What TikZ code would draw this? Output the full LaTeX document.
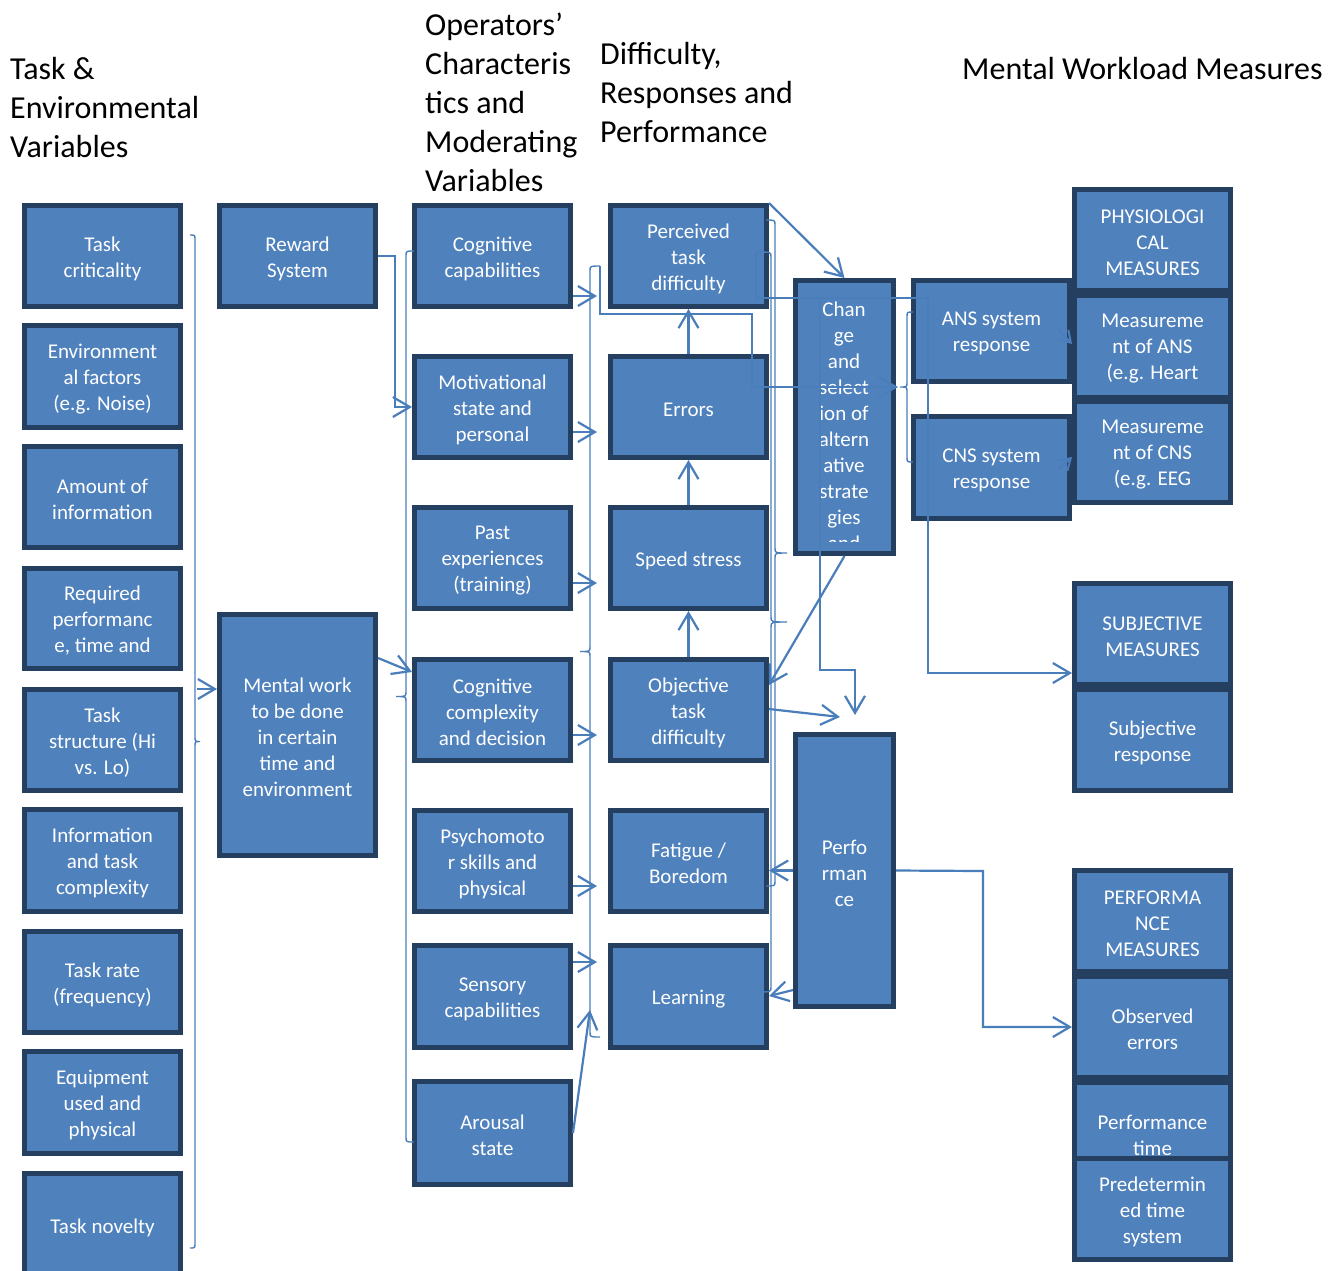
\documentclass[tikz,border=0pt]{standalone}
\usepackage{fontspec}
\setmainfont{Carlito}
\usetikzlibrary{arrows.meta}
\definecolor{boxfill}{HTML}{4F81BD}
\definecolor{boxline}{HTML}{243F60}
\definecolor{wire}{HTML}{4A7EBB}
\tikzset{
  bx/.style={draw=boxline, line width=5pt, fill=boxfill, inner sep=0pt},
  bxtext/.style={text=white, align=center, font=\fontsize{21}{26}\selectfont, inner sep=0pt},
  wire/.style={draw=wire, line width=2.2pt},
  arr/.style={wire, -{Straight Barb[length=17pt,width=20pt]}},
  sarr/.style={wire, line width=2pt, -{Straight Barb[length=11pt,width=14pt]}},
  brace/.style={draw=wire, line width=1.4pt},
  head/.style={font=\fontsize{32}{39}\selectfont, align=left, anchor=west, inner sep=0pt}
}
% box from outer corners (x1,y1)-(x2,y2), with its centred caption
\newcommand\bx[6]{\node[bx, minimum width={(#4-#2-5)*1pt}, minimum height={(#5-#3-5)*1pt}]
  (#1) at ({(#2+#4)/2},{(#3+#5)/2}) {};
  \node[bxtext] (#1-txt) at ({(#2+#4)/2},{(#3+#5)/2+2.5}) {#6};}
% vertical curly brace: name, spine x, top y, bottom y, tip x, point x
\newcommand\vbr[6]{%
  \coordinate (#1-t) at (#5,#3);
  \coordinate (#1-b) at (#5,#4);
  \coordinate (#1) at (#6,{(#3+#4)/2});
  \draw[brace] (#1-t) .. controls (#2,#3) .. (#2,{#3+5}) -- (#2,{(#3+#4)/2-5})
     .. controls (#2,{(#3+#4)/2}) .. (#1) .. controls (#2,{(#3+#4)/2}) .. (#2,{(#3+#4)/2+5})
     -- (#2,{#4-5}) .. controls (#2,#4) .. (#1-b);}
\begin{document}
\begin{tikzpicture}[x=1pt,y=-1pt]
\useasboundingbox (0,0) rectangle (1341,1270);
\fill[white] (0,0) rectangle (1341,1270);
\clip (0,0) rectangle (1341,1270);

% headings
\node[head] (h1) at (10,108) {Task \&\\Environmental\\Variables};
\node[head] (h2) at (425,102) {Operators’\\Characteris\\tics and\\Moderating\\Variables};
\node[head] (h3) at (600,93) {Difficulty,\\Responses and\\Performance};
\node[head] (h4) at (962,69) {Mental Workload Measures};

% task and environmental variables
\bx{t1}{22}{203}{183}{309}{Task\\criticality}
\bx{t2}{22}{323}{183}{430}{Environment\\al factors\\(e.g. Noise)}
\bx{t3}{22}{444}{183}{550}{Amount of\\information}
\bx{t4}{22}{566}{183}{671}{Required\\performanc\\e, time  and}
\bx{t5}{22}{687}{183}{793}{Task\\structure (Hi\\vs. Lo)}
\bx{t6}{22}{807}{183}{914}{Information\\and task\\complexity}
\bx{t7}{22}{929}{183}{1035}{Task rate\\(frequency)}
\bx{t8}{22}{1049}{183}{1156}{Equipment\\used and\\physical}
\bx{t9}{22}{1171}{183}{1279}{Task novelty}

\bx{rew}{217}{203}{378}{309}{Reward\\System}
\bx{mw}{217}{612}{378}{858}{Mental work\\to be done\\in certain\\time and\\environment}

% operators' characteristics
\bx{cc}{412}{203}{573}{309}{Cognitive\\capabilities}
\bx{mot}{412}{354}{573}{460}{Motivational\\state and\\personal}
\bx{past}{412}{505}{573}{611}{Past\\experiences\\(training)}
\bx{cx}{412}{657}{573}{763}{Cognitive\\complexity\\and decision}
\bx{psy}{412}{808}{573}{914}{Psychomoto\\r skills and\\physical}
\bx{sen}{412}{943}{573}{1050}{Sensory\\capabilities}
\bx{aro}{412}{1079}{573}{1187}{Arousal\\state}

% difficulty and responses
\bx{perc}{608}{203}{769}{309}{Perceived\\task\\difficulty}
\bx{err}{608}{354}{769}{460}{Errors}
\bx{spd}{608}{505}{769}{611}{Speed stress}
\bx{obj}{608}{657}{769}{763}{Objective\\task\\difficulty}
\bx{fat}{608}{808}{769}{914}{Fatigue /\\Boredom}
\bx{lrn}{608}{943}{769}{1050}{Learning}

\node[bx, minimum width=98pt, minimum height=273pt] (chg) at (844.5,417) {};
\begin{scope}
  \clip (820,284) rectangle (891,541);
  \node[bxtext] (chgtxt) at (844,426) {Chan\\ge\\and\\select\\ion of\\altern\\ative\\strate\\gies\\and};
\end{scope}
\bx{perf}{793}{732}{896}{1009}{Perfo\\rman\\ce}

\bx{ans}{911}{278}{1072}{384}{ANS system\\response}
\bx{cns}{911}{414}{1072}{521}{CNS system\\response}

% measures
\bx{phy}{1072}{187}{1233}{293}{PHYSIOLOGI\\CAL\\MEASURES}
\bx{mans}{1072}{293}{1233}{400}{Measureme\\nt of ANS\\(e.g. Heart}
\bx{mcns}{1072}{399}{1233}{505}{Measureme\\nt of CNS\\(e.g. EEG}
\bx{subj}{1072}{581}{1233}{687}{SUBJECTIVE\\MEASURES}
\bx{sresp}{1072}{687}{1233}{793}{Subjective\\response}
\bx{pm}{1072}{868}{1233}{974}{PERFORMA\\NCE\\MEASURES}
\bx{obs}{1072}{974}{1233}{1080}{Observed\\errors}
\bx{ptime}{1072}{1080}{1233}{1186}{Performance\\time}
\bx{pred}{1072}{1156}{1233}{1262}{Predetermin\\ed time\\system}

% braces
\vbr{b1}{195}{235}{1248}{190}{200}
\vbr{b3}{406}{251}{1142}{414}{396}
\vbr{b4}{590}{266}{1037}{600}{580}
\vbr{b6}{907}{312}{462}{913}{900}
\vbr{bA}{775}{220}{886}{766}{787}
\vbr{bB}{771}{252}{992}{756}{787}

% connectors
\draw[arr] (197,689) -- (mw.west |- 0,689);
\draw[arr] (rew.east) -- (395,256) -- (395,407) -- (mot.west |- 0,407);
\draw[arr] (mw.east |- 0,658) -- (cx.west |- 0,672);
\foreach \n/\y in {cc/296,mot/432,past/583,cx/735,psy/886,sen/962}
  \draw[arr] (\n.east |- 0,\y) -- (597,\y);
\draw[arr] (aro.east) -- (590,1010);
\draw[arr] (b4-t) -- (600,314) -- (752,314) -- (752,387) -- (898,387);
\draw[arr] (perc.north east) -- (chg.north);
\draw[arr] (bB-t) -- (756,298) -- (928,298) -- (928,673) -- (subj.west |- 0,673);
\draw[arr] (820,298) -- (820,670) -- (855,670) -- (855,715);
\draw[arr] (chg.south) -- (obj.east |- 0,685);
\draw[arr] (obj.east |- 0,709) -- (840,717);
\draw[arr] (perf.west) -- (fat.east |- perf.west);
\draw[arr] (perf.west |- 0,990) -- (lrn.east |- 0,996);
\draw[arr] (perf.east) -- (983,871) -- (983,1027) -- (obs.west);
\draw[arr] (err.north) -- (perc.south);
\draw[arr] (spd.north) -- (err.south);
\draw[arr] (obj.north) -- (spd.south);
\draw[sarr] (1058,329) -- (mans.west |- 0,344);
\draw[sarr] (1058,470) -- (mcns.west |- 0,457);
\end{tikzpicture}
\end{document}
